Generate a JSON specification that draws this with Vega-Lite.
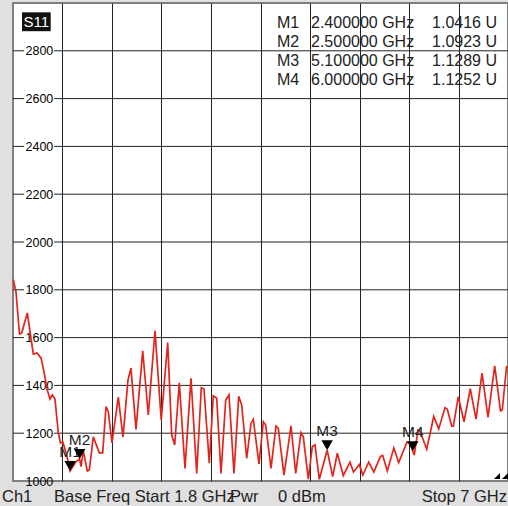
{
  "$schema": "https://vega.github.io/schema/vega-lite/v6.json",
  "width": 495,
  "height": 478,
  "autosize": {"type": "none"},
  "padding": {"left": 13, "top": 3, "right": 0, "bottom": 25},
  "background": "#e0e0e0",
  "config": {"view": {"fill": "white", "stroke": "#808080", "strokeWidth": 2}, "font": "Liberation Sans"},
  "datasets": {
    "trace": [
      {"f": 1.8025, "swr": 1843}, {"f": 1.8315, "swr": 1791}, {"f": 1.8683, "swr": 1615}, {"f": 1.8914, "swr": 1619},
      {"f": 1.9502, "swr": 1703}, {"f": 2.0133, "swr": 1531}, {"f": 2.0521, "swr": 1536}, {"f": 2.0941, "swr": 1515},
      {"f": 2.1257, "swr": 1456}, {"f": 2.1572, "swr": 1385}, {"f": 2.1887, "swr": 1343}, {"f": 2.2128, "swr": 1360},
      {"f": 2.2412, "swr": 1343}, {"f": 2.2759, "swr": 1201}, {"f": 2.299, "swr": 1159}, {"f": 2.3221, "swr": 1164},
      {"f": 2.3641, "swr": 1109}, {"f": 2.4, "swr": 1042}, {"f": 2.4618, "swr": 1081}, {"f": 2.5, "swr": 1092},
      {"f": 2.515, "swr": 1060}, {"f": 2.5385, "swr": 1127}, {"f": 2.5805, "swr": 1042}, {"f": 2.6015, "swr": 1046},
      {"f": 2.6436, "swr": 1185}, {"f": 2.7066, "swr": 1118}, {"f": 2.7423, "swr": 1118}, {"f": 2.777, "swr": 1311},
      {"f": 2.8011, "swr": 1290}, {"f": 2.84, "swr": 1159}, {"f": 2.9062, "swr": 1351}, {"f": 2.9556, "swr": 1184},
      {"f": 3.0081, "swr": 1423}, {"f": 3.0396, "swr": 1472}, {"f": 3.0921, "swr": 1216}, {"f": 3.1625, "swr": 1545},
      {"f": 3.2213, "swr": 1276}, {"f": 3.2917, "swr": 1628}, {"f": 3.3569, "swr": 1255}, {"f": 3.4251, "swr": 1579},
      {"f": 3.4672, "swr": 1192}, {"f": 3.4987, "swr": 1151}, {"f": 3.547, "swr": 1411}, {"f": 3.6069, "swr": 1053},
      {"f": 3.6699, "swr": 1430}, {"f": 3.7298, "swr": 1032}, {"f": 3.7781, "swr": 1390}, {"f": 3.8065, "swr": 1385},
      {"f": 3.8622, "swr": 1074}, {"f": 3.9042, "swr": 1356}, {"f": 3.9399, "swr": 1346}, {"f": 3.9851, "swr": 1032},
      {"f": 4.0345, "swr": 1339}, {"f": 4.0691, "swr": 1360}, {"f": 4.1216, "swr": 1032}, {"f": 4.171, "swr": 1354},
      {"f": 4.2025, "swr": 1318}, {"f": 4.255, "swr": 1095}, {"f": 4.3002, "swr": 1241}, {"f": 4.3244, "swr": 1258},
      {"f": 4.3843, "swr": 1071}, {"f": 4.4294, "swr": 1248}, {"f": 4.4546, "swr": 1234}, {"f": 4.5103, "swr": 1053},
      {"f": 4.5628, "swr": 1230}, {"f": 4.587, "swr": 1220}, {"f": 4.6469, "swr": 1025}, {"f": 4.7204, "swr": 1231},
      {"f": 4.7698, "swr": 1032}, {"f": 4.8255, "swr": 1202}, {"f": 4.8496, "swr": 1185}, {"f": 4.9022, "swr": 1008},
      {"f": 4.9442, "swr": 1144}, {"f": 4.9725, "swr": 1151}, {"f": 5.0177, "swr": 1007}, {"f": 5.1, "swr": 1129},
      {"f": 5.1585, "swr": 1018}, {"f": 5.2068, "swr": 1116}, {"f": 5.2698, "swr": 1023}, {"f": 5.3402, "swr": 1079},
      {"f": 5.377, "swr": 1038}, {"f": 5.4379, "swr": 1069}, {"f": 5.4747, "swr": 1025}, {"f": 5.5367, "swr": 1079},
      {"f": 5.5903, "swr": 1038}, {"f": 5.6606, "swr": 1103}, {"f": 5.6837, "swr": 1107}, {"f": 5.7321, "swr": 1042},
      {"f": 5.8003, "swr": 1138}, {"f": 5.8518, "swr": 1077}, {"f": 5.939, "swr": 1163}, {"f": 5.9758, "swr": 1155},
      {"f": 6.0, "swr": 1125}, {"f": 6.015, "swr": 1108}, {"f": 6.0546, "swr": 1213}, {"f": 6.0756, "swr": 1209},
      {"f": 6.146, "swr": 1133}, {"f": 6.2196, "swr": 1270}, {"f": 6.2721, "swr": 1218}, {"f": 6.3382, "swr": 1307},
      {"f": 6.3624, "swr": 1300}, {"f": 6.4086, "swr": 1230}, {"f": 6.4254, "swr": 1230}, {"f": 6.4781, "swr": 1353},
      {"f": 6.5378, "swr": 1248}, {"f": 6.604, "swr": 1386}, {"f": 6.6639, "swr": 1259}, {"f": 6.7269, "swr": 1451},
      {"f": 6.7899, "swr": 1266}, {"f": 6.8603, "swr": 1482}, {"f": 6.9212, "swr": 1293}, {"f": 6.9401, "swr": 1297},
      {"f": 6.9843, "swr": 1478}, {"f": 7.0, "swr": 1481}
    ],
    "markers": [
      {"name": "M1", "f": 2.4, "swr": 1041.6},
      {"name": "M2", "f": 2.5, "swr": 1092.3},
      {"name": "M3", "f": 5.1, "swr": 1128.9},
      {"name": "M4", "f": 6.0, "swr": 1125.2}
    ],
    "hlines": [{"v": 1200}, {"v": 1400}, {"v": 1600}, {"v": 1800}, {"v": 2000}, {"v": 2200}, {"v": 2400}, {"v": 2600}, {"v": 2800}],
    "one": [{"k": 1}]
  },
  "layer": [
    {
      "data": {"name": "hlines"},
      "mark": {"type": "rule", "color": "#222222", "strokeWidth": 1},
      "encoding": {
        "y": {"field": "v", "type": "quantitative", "scale": {"domain": [1000, 3000], "nice": false, "zero": false},
          "axis": {"values": [1000, 1200, 1400, 1600, 1800, 2000, 2200, 2400, 2600, 2800], "format": "d", "grid": false, "ticks": false, "domain": false, "labelAlign": "left", "labelPadding": -12, "labelFont": "Liberation Sans", "labelFontSize": 12.5, "labelColor": "#000000", "labelOverlap": false, "title": null}},
        "x": {"datum": 1.8, "type": "quantitative", "scale": {"domain": [1.8, 7.0], "nice": false, "zero": false},
          "axis": {"values": [2.32, 2.84, 3.36, 3.88, 4.4, 4.92, 5.44, 5.96, 6.48], "grid": true, "gridColor": "#222222", "gridOpacity": 1, "gridWidth": 1, "labels": false, "ticks": false, "domain": false, "title": null}},
        "x2": {"datum": 1.9156}
      }
    },
    {
      "data": {"name": "hlines"},
      "mark": {"type": "rule", "color": "#222222", "strokeWidth": 1},
      "encoding": {
        "y": {"field": "v", "type": "quantitative", "title": null},
        "x": {"datum": 2.232, "type": "quantitative", "title": null},
        "x2": {"datum": 7.0}
      }
    },
    {
      "data": {"name": "trace"},
      "mark": {"type": "line", "color": "#e3241c", "strokeWidth": 1.7},
      "encoding": {
        "x": {"field": "f", "type": "quantitative", "title": null},
        "y": {"field": "swr", "type": "quantitative", "title": null}
      }
    },
    {
      "data": {"name": "markers"},
      "mark": {"type": "text", "fontSize": 15.5, "color": "#222222", "baseline": "middle", "align": "center", "dy": -19},
      "encoding": {
        "x": {"field": "f", "type": "quantitative", "title": null},
        "y": {"field": "swr", "type": "quantitative", "title": null},
        "text": {"field": "name"}
      }
    },
    {
      "data": {"name": "markers"},
      "mark": {"type": "point", "shape": "triangle-down", "filled": true, "color": "#000000", "opacity": 1, "size": 130, "yOffset": -5},
      "encoding": {
        "x": {"field": "f", "type": "quantitative", "title": null},
        "y": {"field": "swr", "type": "quantitative", "title": null}
      }
    },
    {
      "data": {"name": "one"},
      "mark": {"type": "rect", "color": "#111111"},
      "encoding": {"x": {"datum": 1.8945}, "x2": {"datum": 2.196}, "y": {"datum": 2882}, "y2": {"datum": 2961}}
    },
    {
      "data": {"name": "one"},
      "mark": {"type": "text", "color": "#ffffff", "fontSize": 15, "align": "center", "baseline": "middle"},
      "encoding": {"x": {"datum": 2.0448}, "y": {"datum": 2921}, "text": {"value": "S11"}}
    },
    {
      "data": {"name": "one"},
      "mark": {"type": "text", "color": "#222222", "fontSize": 16, "align": "left", "baseline": "middle", "lineHeight": 19},
      "encoding": {"x": {"datum": 4.5733}, "y": {"datum": 2917}, "text": {"value": ["M1", "M2", "M3", "M4"]}}
    },
    {
      "data": {"name": "one"},
      "mark": {"type": "text", "color": "#222222", "fontSize": 16, "align": "left", "baseline": "middle", "lineHeight": 19},
      "encoding": {"x": {"datum": 4.9305}, "y": {"datum": 2917}, "text": {"value": ["2.400000 GHz", "2.500000 GHz", "5.100000 GHz", "6.000000 GHz"]}}
    },
    {
      "data": {"name": "one"},
      "mark": {"type": "text", "color": "#222222", "fontSize": 16, "align": "right", "baseline": "middle", "lineHeight": 19},
      "encoding": {"x": {"datum": 6.8845}, "y": {"datum": 2917}, "text": {"value": ["1.0416 U", "1.0923 U", "1.1289 U", "1.1252 U"]}}
    },
    {
      "data": {"name": "one"},
      "mark": {"type": "text", "color": "#222222", "fontSize": 16.5, "align": "left", "baseline": "alphabetic"},
      "encoding": {"x": {"datum": 1.6844}, "y": {"datum": 914}, "text": {"value": "Ch1"}}
    },
    {
      "data": {"name": "one"},
      "mark": {"type": "text", "color": "#222222", "fontSize": 16.5, "align": "left", "baseline": "alphabetic"},
      "encoding": {"x": {"datum": 2.2307}, "y": {"datum": 914}, "text": {"value": "Base Freq Start  1.8 GHz"}}
    },
    {
      "data": {"name": "one"},
      "mark": {"type": "text", "color": "#222222", "fontSize": 16.5, "align": "left", "baseline": "alphabetic"},
      "encoding": {"x": {"datum": 4.0796}, "y": {"datum": 914}, "text": {"value": "Pwr"}}
    },
    {
      "data": {"name": "one"},
      "mark": {"type": "text", "color": "#222222", "fontSize": 16.5, "align": "left", "baseline": "alphabetic"},
      "encoding": {"x": {"datum": 4.5839}, "y": {"datum": 914}, "text": {"value": "0 dBm"}}
    },
    {
      "data": {"name": "one"},
      "mark": {"type": "text", "color": "#222222", "fontSize": 16.5, "align": "right", "baseline": "alphabetic"},
      "encoding": {"x": {"datum": 6.9895}, "y": {"datum": 914}, "text": {"value": "Stop 7 GHz"}}
    },
    {
      "data": {"name": "one"},
      "mark": {"type": "point", "shape": "M 1 -1 L 1 1 L -1 1 Z", "filled": true, "color": "#000000", "opacity": 1, "size": 36},
      "encoding": {"x": {"datum": 6.8845}, "y": {"datum": 1021}}
    },
    {
      "data": {"name": "one"},
      "mark": {"type": "point", "shape": "M 1 -1 L 1 1 L -1 1 Z", "filled": true, "color": "#000000", "opacity": 1, "size": 36},
      "encoding": {"x": {"datum": 6.9685}, "y": {"datum": 1021}}
    }
  ]
}
